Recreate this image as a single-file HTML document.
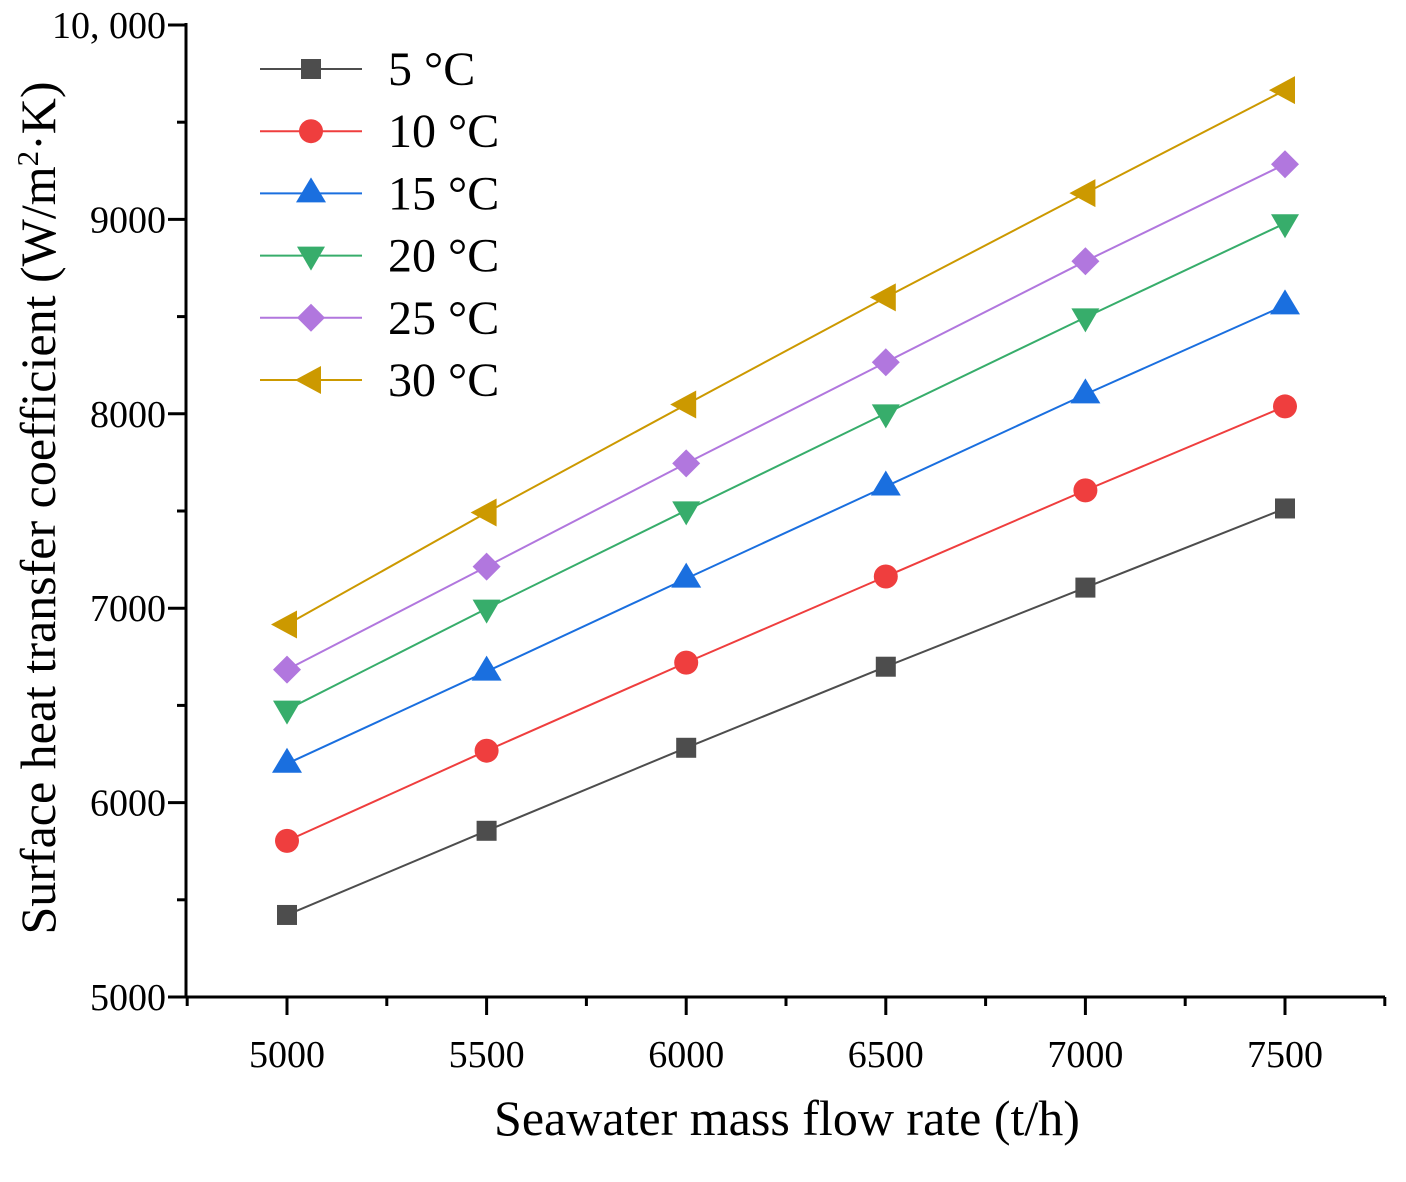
<!DOCTYPE html>
<html><head><meta charset="utf-8"><style>
body{margin:0;background:#fff}
svg text{font-family:"Liberation Serif","Noto Serif CJK SC",serif;fill:#000}
</style></head><body>
<svg id="chart" width="1406" height="1177" viewBox="0 0 1406 1177"></svg>
<script>
const categories=[5000,5500,6000,6500,7000,7500];
const s5=[5422,5855,6282,6699,7106,7513];
const s10=[5803,6267,6720,7163,7606,8038];
const s15=[6200,6674,7152,7626,8100,8558];
const s20=[6478,6998,7503,8002,8496,8980];
const s25=[6684,7214,7745,8265,8785,9284];
const s30=[6916,7492,8048,8599,9135,9665];
const seriesNames=["5 °C","10 °C","15 °C","20 °C","25 °C","30 °C"];
const yTicks=[5000,6000,7000,8000,9000,10000];
const yTickLabels=["5000","6000","7000","8000","9000","10, 000"];
const xTicks=[5000,5500,6000,6500,7000,7500];

const NS="http://www.w3.org/2000/svg";
const svg=document.getElementById('chart');
const X0=186,X1=1385,Y0=997,Y1=23;
const xs=v=>287+(v-5000)*(998/2500);
const ys=v=>997-(v-5000)*(972/5000);
function mk(t,a,p){const e=document.createElementNS(NS,t);for(const k in a)e.setAttribute(k,a[k]);(p||svg).appendChild(e);return e;}
const colors=["#4d4d4d","#ef3e3e","#1a6fdf","#37ad6b","#b177de","#cc9900"];
const shapes=["square","circle","up","down","diamond","left"];
function marker(shape,x,y,c,g){
  let e;
  if(shape==="square")e=mk('rect',{x:x-10,y:y-10,width:20,height:20,fill:c},g);
  else if(shape==="circle")e=mk('circle',{cx:x,cy:y,r:12,fill:c},g);
  else {let p;
    if(shape==="up")p=[[x,y-16],[x+15,y+9],[x-15,y+9]];
    if(shape==="down")p=[[x,y+15],[x+14,y-9],[x-14,y-9]];
    if(shape==="diamond")p=[[x,y-14],[x+14,y],[x,y+14],[x-14,y]];
    if(shape==="left")p=[[x-16,y],[x+10,y-14],[x+10,y+14]];
    e=mk('polygon',{points:p.map(q=>q.join(',')).join(' '),fill:c},g);}
  return e;
}
const ax=mk('g',{});


mk('line',{x1:X0,y1:Y1,x2:X0,y2:Y0+1.5,stroke:'#000','stroke-width':3},ax);
mk('line',{x1:X0-1.5,y1:Y0,x2:X1,y2:Y0,stroke:'#000','stroke-width':3},ax);
yTicks.forEach((v,i)=>{
  const y=ys(v);
  mk('line',{x1:X0-18,y1:y,x2:X0,y2:y,stroke:'#000','stroke-width':3},ax);
  if(i<yTicks.length-1)mk('line',{x1:X0-9,y1:ys(v+500),x2:X0,y2:ys(v+500),stroke:'#000','stroke-width':3},ax);
  const t=mk('text',{x:X0-20,y:y+13,'text-anchor':'end','font-size':38},ax);t.textContent=yTickLabels[i];
  
  
});
xTicks.forEach(v=>{
  const x=xs(v);
  mk('line',{x1:x,y1:Y0,x2:x,y2:Y0+18,stroke:'#000','stroke-width':3},ax);
  const t=mk('text',{x:x,y:1067,'text-anchor':'middle','font-size':38},ax);t.textContent=String(v);
  
  
});
[4750,5250,5750,6250,6750,7250,7750].forEach(v=>{
  const x=xs(v);mk('line',{x1:x,y1:Y0,x2:x,y2:Y0+9,stroke:'#000','stroke-width':3},ax);
});
const xt=mk('text',{x:787,y:1135,'text-anchor':'middle','font-size':50});
xt.textContent="Seawater mass flow rate (t/h)";


const yt=mk('text',{transform:'translate(55,508) rotate(-90)','text-anchor':'middle','font-size':50});
yt.innerHTML='Surface heat transfer coefficient (W/m<tspan baseline-shift="super" font-size="31">2</tspan>·K)';


const all=[s5,s10,s15,s20,s25,s30];
all.forEach((s,i)=>{
  const g=mk('g',{});
  
  
  mk('polyline',{points:s.map((v,j)=>xs(categories[j])+','+ys(v)).join(' '),fill:'none',stroke:colors[i],'stroke-width':2},g);
  s.forEach((v,j)=>{const m=marker(shapes[i],xs(categories[j]),ys(v),colors[i],g);
    
    });
  const ly=69+i*62.2;
  const lg=mk('g',{});
  
  
  mk('line',{x1:260,y1:ly,x2:362,y2:ly,stroke:colors[i],'stroke-width':2},lg);
  marker(shapes[i],311,ly,colors[i],lg);
  const t=mk('text',{x:388,y:ly+16,'font-size':48},lg);t.textContent=seriesNames[i];
});
</script>
</body></html>
